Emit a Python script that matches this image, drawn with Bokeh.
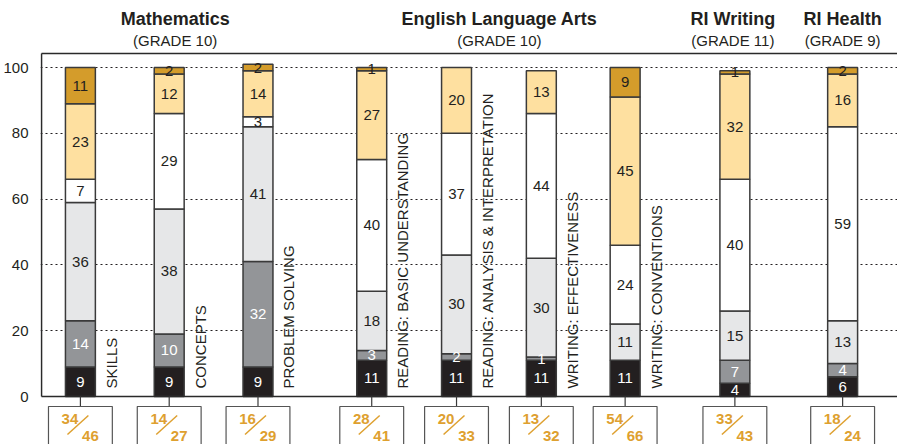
import numpy as np
from bokeh.plotting import figure
from bokeh.models import Range1d, FixedTicker
from bokeh.embed import file_html
from bokeh.resources import INLINE
from bokeh.core.properties import value

# ---------------- data ----------------
categories = ["SKILLS", "CONCEPTS", "PROBLEM SOLVING",
              "READING:  BASIC UNDERSTANDING",
              "READING:  ANALYSIS & INTERPRETATION",
              "WRITING:  EFFECTIVENESS", "WRITING:  CONVENTIONS", "", ""]
black_seg = [9, 9, 9, 11, 11, 11, 11, 4, 6]
darkgray_seg = [14, 10, 32, 3, 2, 1, 0, 7, 4]
lightgray_seg = [36, 38, 41, 18, 30, 30, 11, 15, 13]
white_seg = [7, 29, 3, 40, 37, 44, 24, 40, 59]
yellow_seg = [23, 12, 14, 27, 20, 13, 45, 32, 16]
gold_seg = [11, 2, 2, 1, 0, 0, 9, 1, 2]
numerators = [34, 14, 16, 28, 20, 13, 54, 33, 18]
denominators = [46, 27, 29, 41, 33, 32, 66, 43, 24]
subjects = ["Mathematics", "English Language Arts", "RI Writing", "RI Health"]
grades = ["(GRADE 10)", "(GRADE 10)", "(GRADE 11)", "(GRADE 9)"]
y_ticks = [0, 20, 40, 60, 80, 100]

# ---------------- layout ----------------
W, H = 897, 444
LEFT = 38
PX = 3.29            # pixels per percentage point
AXIS_PX = 396        # pixel row of the zero line
x_pos = [39, 128, 217, 331, 416, 501, 585, 695, 803]
header_x = [134, 459, 693, 803]
BAR_W = 30
FONT = value("Liberation Sans")
DARK = "#231f20"
ORANGE = "#dea02f"
seg_colors = ["#231f20", "#939598", "#e6e7e8", "#ffffff", "#fee0a0", "#d49c2b"]
seg_text = ["#ffffff", "#ffffff", DARK, DARK, DARK, DARK]


def py(pixel):
    return (AXIS_PX - pixel) / PX


p = figure(width=W, height=H, output_backend="svg", toolbar_location=None,
           x_range=Range1d(-1, W - LEFT - 1),
           y_range=Range1d(py(H), py(0)),
           x_axis_location=None, min_border_left=LEFT, min_border_right=0,
           min_border_top=0, min_border_bottom=0)
p.outline_line_color = None
p.xgrid.visible = False
p.ygrid.ticker = FixedTicker(ticks=y_ticks[1:])
p.ygrid.grid_line_color = DARK
p.ygrid.grid_line_dash = "2 3"
p.ygrid.grid_line_width = 1.2
p.yaxis.ticker = FixedTicker(ticks=y_ticks)
p.yaxis.axis_line_color = None
p.yaxis.major_tick_line_color = None
p.yaxis.minor_tick_line_color = None
p.yaxis.major_label_standoff = 6
p.yaxis.major_label_text_font = "Liberation Sans"
p.yaxis.major_label_text_font_size = "15px"
p.yaxis.major_label_text_color = DARK

# ---------------- stacked bars ----------------
layers = [black_seg, darkgray_seg, lightgray_seg, white_seg, yellow_seg, gold_seg]
arr = np.array(layers, dtype=float)
tops = np.cumsum(arr, axis=0)
bottoms = tops - arr
x = np.array(x_pos, dtype=float)

lx, ly, lt, lc = [], [], [], []
for i in range(len(layers)):
    mask = arr[i] > 0
    p.vbar(x=x[mask], width=BAR_W, bottom=bottoms[i][mask], top=tops[i][mask],
           fill_color=seg_colors[i], line_color="#3a3a3a", line_width=1.5)
    for j in np.where(mask)[0]:
        lx.append(x[j])
        ly.append((bottoms[i][j] + tops[i][j]) / 2)
        lt.append(str(int(arr[i][j])))
        lc.append(seg_text[i])
p.text(x=lx, y=ly, text=lt, text_color=lc, text_font=FONT,
       text_font_size=value("15px"), text_align="center", text_baseline="middle")

# vertical category labels
vx, vt = [], []
for j, c in enumerate(categories):
    if c:
        vx.append(x[j] + 31)
        vt.append(c)
p.text(x=vx, y=[py(388)] * len(vx), text=vt, angle=np.pi / 2, text_color=DARK,
       text_font=FONT, text_font_size=value("15px"), text_align="left",
       text_baseline="middle")

# frame lines
right = W - LEFT - 1
p.segment(x0=[0, 0, 0], y0=[0, 0, py(53)], x1=[right, 0, right], y1=[0, py(53), py(53)],
          line_color="#2a2a2a", line_width=1.6)

# headers
p.text(x=header_x, y=[py(18)] * 4, text=subjects, text_color=DARK, text_font=FONT,
       text_font_style="bold", text_font_size=value("18px"), text_align="center",
       text_baseline="middle")
p.text(x=header_x, y=[py(40)] * 4, text=grades, text_color=DARK, text_font=FONT,
       text_font_size=value("15px"), text_align="center", text_baseline="middle")

# fraction boxes below axis
p.segment(x0=x, y0=[0] * len(x), x1=x, y1=[py(406)] * len(x),
          line_color="#3a3a3a", line_width=1.2)
p.quad(left=x - 32, right=x + 32, top=py(406), bottom=py(470),
       fill_color="white", line_color="#555555", line_width=1.2)
p.segment(x0=x - 13, y0=[py(434)] * len(x), x1=x + 8, y1=[py(415)] * len(x),
          line_color=ORANGE, line_width=1.5)
p.text(x=x - 10.5, y=[py(418)] * len(x), text=[str(n) for n in numerators],
       text_color=ORANGE, text_font=FONT, text_font_style="bold",
       text_font_size=value("15px"), text_align="center", text_baseline="middle")
p.text(x=x + 10, y=[py(435.5)] * len(x), text=[str(d) for d in denominators],
       text_color=ORANGE, text_font=FONT, text_font_style="bold",
       text_font_size=value("15px"), text_align="center", text_baseline="middle")

open("out.html", "w").write(file_html(p, INLINE))
